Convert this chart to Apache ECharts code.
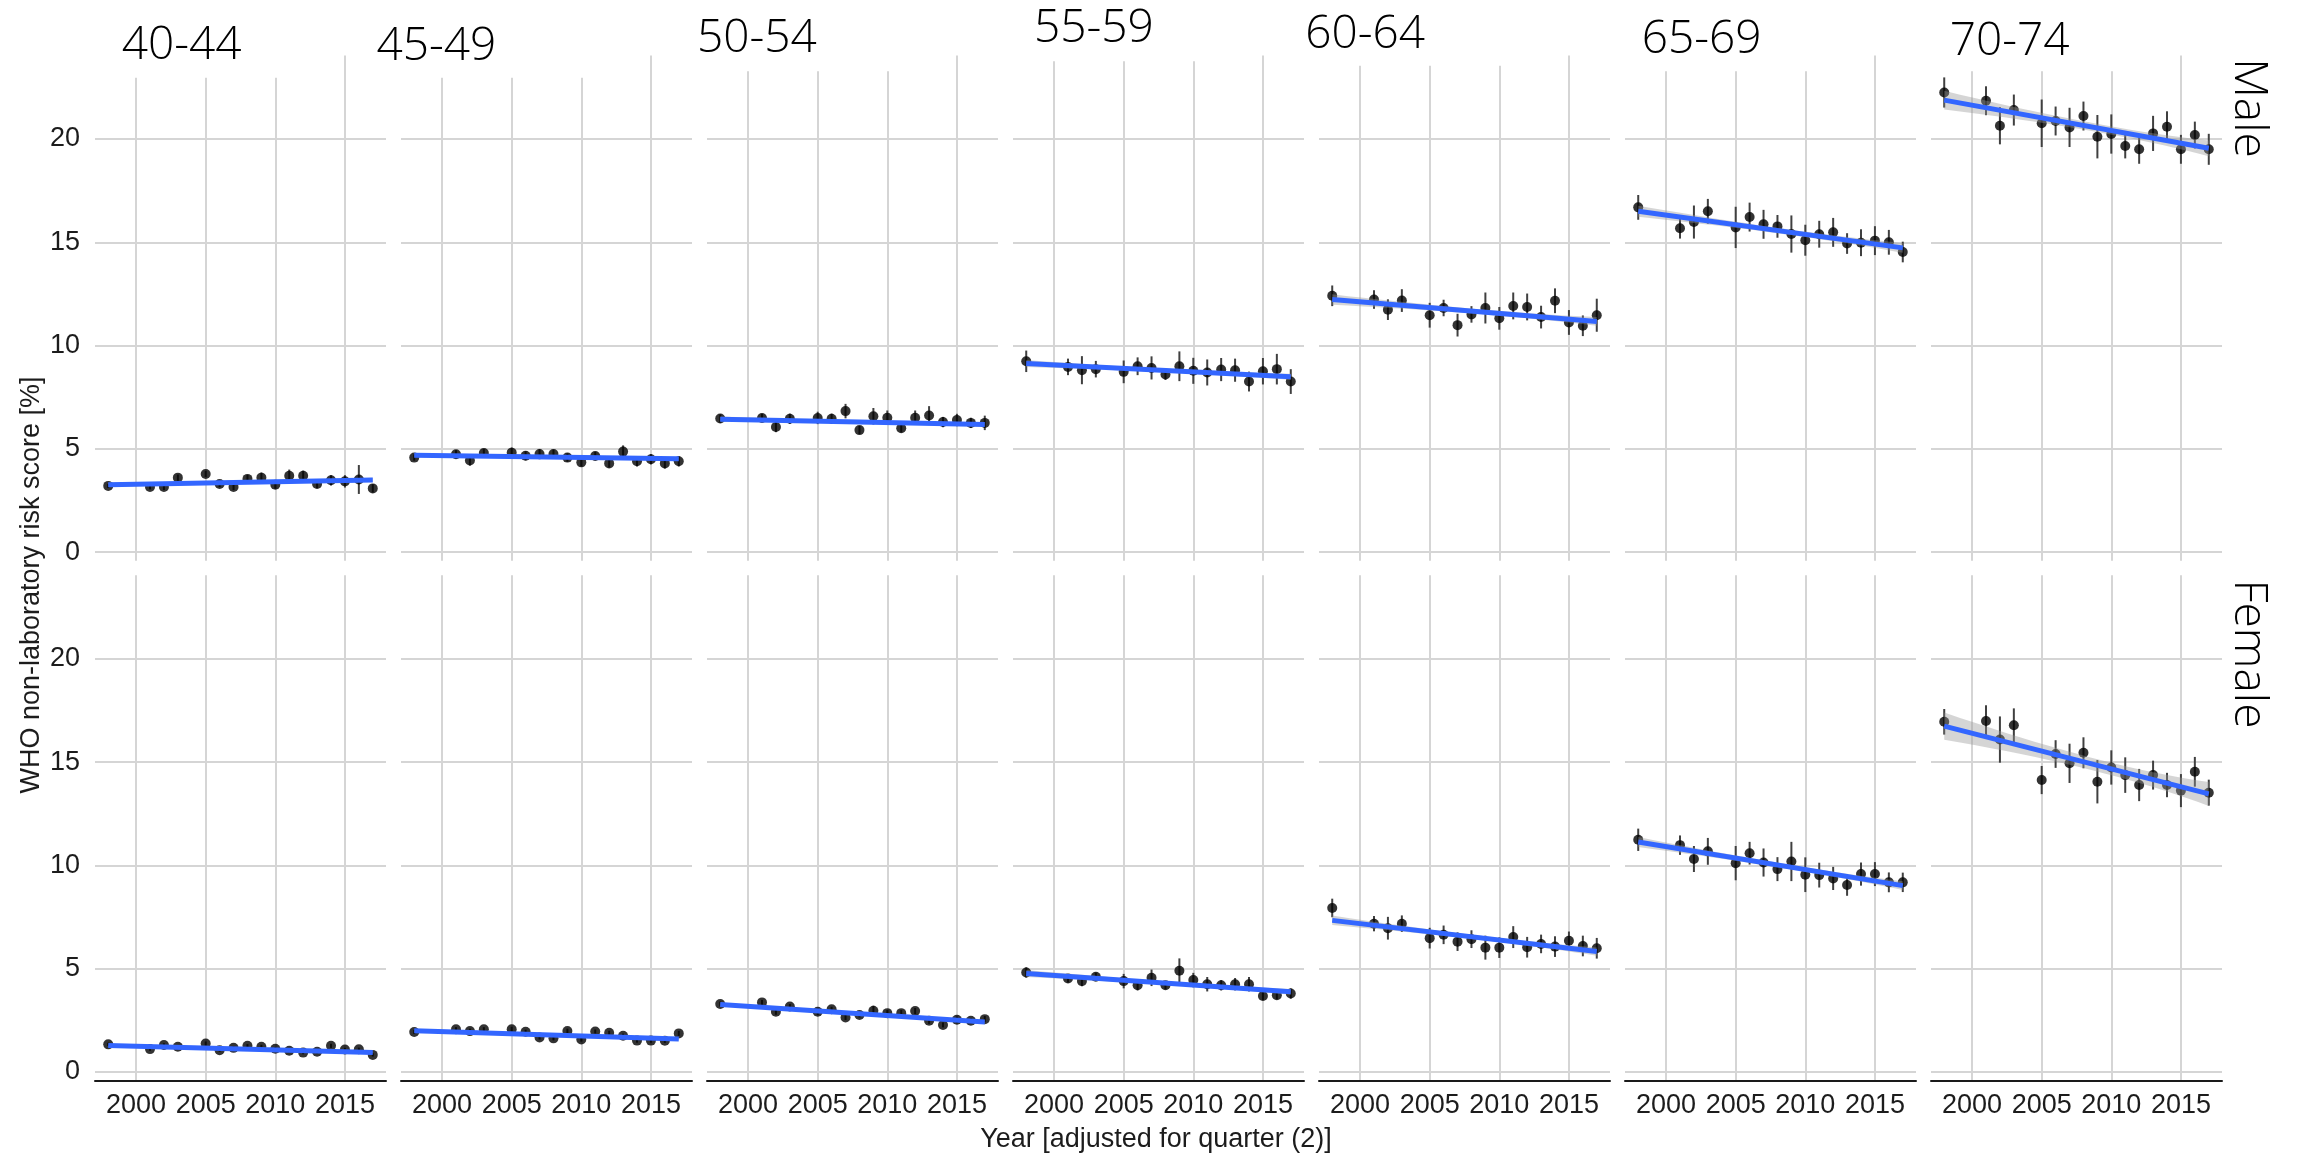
<!DOCTYPE html>
<html>
<head>
<meta charset="utf-8">
<script src="https://cdn.jsdelivr.net/npm/echarts@6/dist/echarts.min.js"></script>
<style>
  html, body { margin: 0; padding: 0; background: #ffffff; }
  #chart { width: 2298px; height: 1160px; }
</style>
</head>
<body>
<div id="chart"></div>
<script>
// ---- data -----------------------------------------------------------------
const ageGroups = ['40-44', '45-49', '50-54', '55-59', '60-64', '65-69', '70-74'];
const sexes = ['Male', 'Female'];
const years = [1998, 2001, 2002, 2003, 2005, 2006, 2007, 2008, 2009, 2010, 2011, 2012, 2013, 2014, 2015, 2016, 2017];
const yearTicks = [2000, 2005, 2010, 2015];
const scoreTicks = [0, 5, 10, 15, 20];

// mean WHO non-laboratory risk score [%] per age group (one row per age group)
const maleMean = [
  [3.21, 3.16, 3.16, 3.61, 3.79, 3.30, 3.16, 3.55, 3.61, 3.27, 3.70, 3.70, 3.30, 3.48, 3.43, 3.52, 3.09],
  [4.58, 4.74, 4.44, 4.80, 4.82, 4.67, 4.75, 4.75, 4.58, 4.35, 4.66, 4.30, 4.87, 4.40, 4.50, 4.30, 4.40],
  [6.47, 6.50, 6.06, 6.46, 6.50, 6.46, 6.83, 5.91, 6.58, 6.51, 6.00, 6.51, 6.62, 6.30, 6.40, 6.26, 6.26],
  [9.24, 8.97, 8.81, 8.86, 8.73, 9.00, 8.92, 8.60, 9.00, 8.78, 8.70, 8.84, 8.81, 8.26, 8.76, 8.86, 8.26],
  [12.41, 12.23, 11.74, 12.18, 11.47, 11.82, 10.99, 11.51, 11.82, 11.32, 11.92, 11.87, 11.38, 12.17, 11.12, 10.96, 11.47],
  [16.69, 15.68, 15.98, 16.50, 15.72, 16.22, 15.87, 15.77, 15.40, 15.10, 15.39, 15.48, 14.94, 14.98, 15.08, 15.00, 14.53],
  [22.25, 21.85, 20.64, 21.40, 20.76, 20.87, 20.56, 21.11, 20.11, 20.24, 19.66, 19.50, 20.27, 20.59, 19.50, 20.19, 19.50]
];
// half-width of the interval around each male mean
const maleErr = [
  [0.10, 0.12, 0.15, 0.15, 0.15, 0.15, 0.15, 0.20, 0.25, 0.20, 0.30, 0.25, 0.20, 0.25, 0.30, 0.70, 0.20],
  [0.15, 0.20, 0.25, 0.20, 0.25, 0.22, 0.25, 0.22, 0.20, 0.20, 0.20, 0.20, 0.30, 0.25, 0.25, 0.25, 0.25],
  [0.20, 0.20, 0.25, 0.25, 0.30, 0.25, 0.35, 0.20, 0.40, 0.35, 0.20, 0.35, 0.45, 0.25, 0.30, 0.25, 0.35],
  [0.52, 0.40, 0.68, 0.40, 0.55, 0.43, 0.56, 0.26, 0.72, 0.63, 0.63, 0.56, 0.56, 0.48, 0.64, 0.74, 0.60],
  [0.50, 0.45, 0.50, 0.55, 0.60, 0.40, 0.55, 0.40, 0.75, 0.55, 0.65, 0.65, 0.55, 0.60, 0.60, 0.50, 0.80],
  [0.60, 0.50, 0.80, 0.60, 1.00, 0.70, 0.70, 0.55, 0.90, 0.75, 0.65, 0.70, 0.50, 0.65, 0.70, 0.60, 0.50],
  [0.73, 0.70, 0.90, 0.75, 1.15, 0.70, 0.95, 0.70, 1.05, 0.95, 0.60, 0.70, 0.85, 0.75, 0.70, 0.65, 0.75]
];
const femaleMean = [
  [1.34, 1.11, 1.31, 1.22, 1.38, 1.06, 1.17, 1.27, 1.22, 1.13, 1.03, 0.94, 0.98, 1.27, 1.09, 1.10, 0.83],
  [1.94, 2.07, 1.98, 2.07, 2.07, 1.95, 1.67, 1.63, 1.98, 1.57, 1.96, 1.90, 1.76, 1.52, 1.52, 1.51, 1.87],
  [3.29, 3.37, 2.92, 3.17, 2.92, 3.04, 2.64, 2.76, 2.96, 2.85, 2.85, 2.95, 2.48, 2.28, 2.53, 2.48, 2.56],
  [4.82, 4.53, 4.40, 4.61, 4.40, 4.20, 4.56, 4.20, 4.90, 4.45, 4.25, 4.20, 4.25, 4.25, 3.68, 3.72, 3.80],
  [7.94, 7.18, 6.96, 7.18, 6.48, 6.64, 6.31, 6.43, 6.02, 6.02, 6.53, 6.04, 6.20, 6.07, 6.35, 6.10, 5.99],
  [11.24, 10.98, 10.31, 10.68, 10.11, 10.59, 10.14, 9.82, 10.19, 9.55, 9.53, 9.37, 9.05, 9.58, 9.58, 9.18, 9.18],
  [16.95, 16.99, 16.09, 16.78, 14.13, 15.39, 14.94, 15.45, 14.05, 14.74, 14.37, 13.89, 14.37, 13.89, 13.62, 14.53, 13.52]
];
const femaleErr = [
  [0.08, 0.08, 0.08, 0.08, 0.10, 0.08, 0.08, 0.08, 0.10, 0.08, 0.08, 0.08, 0.08, 0.10, 0.08, 0.08, 0.08],
  [0.10, 0.10, 0.12, 0.10, 0.12, 0.10, 0.10, 0.10, 0.12, 0.10, 0.10, 0.10, 0.10, 0.10, 0.10, 0.10, 0.12],
  [0.12, 0.12, 0.15, 0.12, 0.15, 0.12, 0.12, 0.12, 0.25, 0.15, 0.15, 0.15, 0.15, 0.12, 0.15, 0.12, 0.15],
  [0.25, 0.20, 0.25, 0.20, 0.35, 0.25, 0.40, 0.20, 0.60, 0.35, 0.35, 0.25, 0.30, 0.35, 0.20, 0.20, 0.25],
  [0.45, 0.37, 0.55, 0.40, 0.50, 0.45, 0.45, 0.43, 0.58, 0.50, 0.53, 0.50, 0.45, 0.50, 0.45, 0.50, 0.50],
  [0.54, 0.47, 0.63, 0.65, 0.83, 0.55, 0.68, 0.58, 0.95, 0.84, 0.60, 0.56, 0.52, 0.56, 0.58, 0.48, 0.47],
  [0.62, 0.76, 1.12, 0.82, 0.68, 0.67, 0.95, 0.75, 1.05, 0.83, 0.86, 0.78, 0.70, 0.59, 0.80, 0.72, 0.63]
];

// linear trend: value at the first and at the last year
const fitYears = [1998, 2017];
const maleFit = [[3.27, 3.50], [4.69, 4.52], [6.44, 6.18], [9.13, 8.49], [12.23, 11.17], [16.50, 14.73], [21.88, 19.55]];
const femaleFit = [[1.28, 0.94], [2.00, 1.60], [3.27, 2.42], [4.77, 3.88], [7.34, 5.83], [11.13, 9.02], [16.74, 13.46]];
// half-width of the trend's confidence band at first year, narrowest year, last year
const bandYears = [1998, 2008.5, 2017];
const maleBand = [[0.11, 0.05, 0.10], [0.09, 0.04, 0.08], [0.13, 0.06, 0.11], [0.17, 0.08, 0.15], [0.25, 0.12, 0.21], [0.27, 0.13, 0.24], [0.45, 0.20, 0.38]];
const femaleBand = [[0.05, 0.025, 0.045], [0.07, 0.03, 0.06], [0.09, 0.04, 0.08], [0.17, 0.08, 0.14], [0.23, 0.10, 0.20], [0.24, 0.11, 0.21], [0.66, 0.30, 0.58]];

// ---- layout ---------------------------------------------------------------
const PANEL_LEFT = 95, PANEL_STEP = 306, PANEL_W = 291;
const ROW_TOP = [55.5, 575.3], PANEL_H = 505.2;
const X_MIN = 1997.05, X_MAX = 2017.95, Y_MIN = -0.41, Y_MAX = 24.04;
const GRID_COLOR = '#d5d5d5';
const TEXT_COLOR = '#1c1c1c';
const SANS = '"Liberation Sans", Arial, sans-serif';
const LIGHT = '"Open Sans", "Noto Sans", sans-serif';

// strip titles sit at slightly different heights; the white boxes behind them
// hide the top of the vertical grid lines
const titleLeft = [121.7, 376.5, 697, 1033.9, 1305.3, 1641.7, 1949.8];
const titleMidY = [46.3, 46.6, 38.8, 28.8, 34.4, 39.8, 42.1];
const titleBoxBottom = [77.7, 77.7, 71.2, 61.2, 65.8, 71.2, 71.2];

const grids = [], xAxes = [], yAxes = [], series = [];

function bandRenderer(fit, half) {
  return function (params, api) {
    if (params.dataIndex !== 0) return null;
    const x0 = fitYears[0], x2 = fitYears[1];
    const yAt = x => fit[0] + (fit[1] - fit[0]) * (x - x0) / (x2 - x0);
    const edge = sign => bandYears.map((x, i) => api.coord([x, yAt(x) + sign * half[i]]));
    const curve = p => {
      const c = [2 * p[1][0] - (p[0][0] + p[2][0]) / 2, 2 * p[1][1] - (p[0][1] + p[2][1]) / 2];
      const out = [];
      for (let k = 0; k <= 20; k++) {
        const t = k / 20, a = (1 - t) * (1 - t), b = 2 * t * (1 - t), d = t * t;
        out.push([a * p[0][0] + b * c[0] + d * p[2][0], a * p[0][1] + b * c[1] + d * p[2][1]]);
      }
      return out;
    };
    const pts = curve(edge(-1)).concat(curve(edge(1)).reverse());
    return { type: 'polygon', shape: { points: pts }, style: { fill: 'rgba(150,150,150,0.4)' } };
  };
}

function errorBarRenderer(params, api) {
  const x = api.value(0);
  const a = api.coord([x, api.value(1)]);
  const b = api.coord([x, api.value(2)]);
  return {
    type: 'line',
    shape: { x1: a[0], y1: a[1], x2: b[0], y2: b[1] },
    style: { stroke: '#404040', lineWidth: 2 }
  };
}

for (let r = 0; r < sexes.length; r++) {
  for (let c = 0; c < ageGroups.length; c++) {
    const g = r * ageGroups.length + c;
    const mean = r === 0 ? maleMean[c] : femaleMean[c];
    const err = r === 0 ? maleErr[c] : femaleErr[c];
    const fit = r === 0 ? maleFit[c] : femaleFit[c];
    const band = r === 0 ? maleBand[c] : femaleBand[c];
    const bottomRow = r === sexes.length - 1;

    grids.push({
      left: PANEL_LEFT + c * PANEL_STEP, top: ROW_TOP[r],
      width: PANEL_W, height: PANEL_H,
      containLabel: false, outerBoundsMode: 'none'
    });
    xAxes.push({
      type: 'value', gridIndex: g, min: X_MIN, max: X_MAX, splitNumber: 4,
      axisLine: { show: bottomRow, onZero: false, lineStyle: { color: '#1a1a1a', width: 2 } },
      axisTick: { show: false },
      axisLabel: {
        show: bottomRow, showMinLabel: false, showMaxLabel: false, margin: 12,
        fontSize: 27, fontFamily: SANS, color: TEXT_COLOR,
        formatter: v => (yearTicks.indexOf(v) >= 0 ? String(v) : '')
      },
      splitLine: { show: true, showMinLine: false, showMaxLine: false, lineStyle: { color: GRID_COLOR, width: 2 } }
    });
    yAxes.push({
      type: 'value', gridIndex: g, min: Y_MIN, max: Y_MAX, splitNumber: 5,
      axisLine: { show: false }, axisTick: { show: false },
      axisLabel: {
        show: c === 0, showMinLabel: false, showMaxLabel: false, margin: 15,
        fontSize: 27, fontFamily: SANS, color: TEXT_COLOR,
        formatter: v => (scoreTicks.indexOf(v) >= 0 ? String(v) : '')
      },
      splitLine: { show: true, showMinLine: false, showMaxLine: false, lineStyle: { color: GRID_COLOR, width: 2 } }
    });

    series.push({
      type: 'custom', xAxisIndex: g, yAxisIndex: g, silent: true, z: 3,
      renderItem: errorBarRenderer,
      encode: { x: 0, y: [1, 2] },
      data: years.map((yr, i) => [yr, mean[i] - err[i], mean[i] + err[i]])
    });
    series.push({
      type: 'scatter', xAxisIndex: g, yAxisIndex: g, silent: true, z: 4,
      symbol: 'circle', symbolSize: 10,
      itemStyle: { color: '#000000' },
      data: years.map((yr, i) => [yr, mean[i]])
    });
    series.push({
      type: 'custom', xAxisIndex: g, yAxisIndex: g, silent: true, z: 5,
      renderItem: bandRenderer(fit, band),
      encode: { x: 0, y: 1 },
      data: [[fitYears[0], fit[0]]]
    });
    series.push({
      type: 'line', xAxisIndex: g, yAxisIndex: g, silent: true, z: 6,
      symbol: 'none',
      lineStyle: { color: '#3366FF', width: 5 },
      data: fitYears.map((yr, i) => [yr, fit[i]])
    });
  }
}

const graphics = [];
ageGroups.forEach((label, c) => {
  const left = PANEL_LEFT + c * PANEL_STEP;
  const x2015 = left + (2015 - X_MIN) / (X_MAX - X_MIN) * PANEL_W;
  graphics.push({
    type: 'rect', z: 100, silent: true,
    shape: { x: left - 4, y: 0, width: x2015 - left - 4, height: titleBoxBottom[c] },
    style: { fill: '#ffffff' }
  });
  graphics.push({
    type: 'text', z: 101, silent: true,
    style: {
      x: titleLeft[c], y: titleMidY[c], text: label,
      fontSize: 46, fontWeight: 300, fontFamily: LIGHT, fill: '#000000',
      align: 'left', verticalAlign: 'middle'
    }
  });
});
const stripCenterY = [108, 654];
sexes.forEach((s, r) => {
  graphics.push({
    type: 'text', z: 101, silent: true,
    x: 2248, y: stripCenterY[r], rotation: -Math.PI / 2,
    style: {
      x: 0, y: 0, text: s,
      fontSize: 46, fontWeight: 300, fontFamily: LIGHT, fill: '#000000',
      align: 'center', verticalAlign: 'middle'
    }
  });
});
graphics.push({
  type: 'text', z: 101, silent: true,
  x: 32, y: 585, rotation: Math.PI / 2,
  style: {
    x: 0, y: 0, text: 'WHO non-laboratory risk score [%]',
    fontSize: 27, fontFamily: SANS, fill: TEXT_COLOR,
    align: 'center', verticalAlign: 'middle'
  }
});
graphics.push({
  type: 'text', z: 101, silent: true,
  style: {
    x: 1156, y: 1140, text: 'Year [adjusted for quarter (2)]',
    fontSize: 27, fontFamily: SANS, fill: TEXT_COLOR,
    align: 'center', verticalAlign: 'middle'
  }
});

const chart = echarts.init(document.getElementById('chart'), null, { renderer: 'canvas' });
chart.setOption({
  backgroundColor: '#ffffff',
  animation: false,
  grid: grids,
  xAxis: xAxes,
  yAxis: yAxes,
  series: series,
  graphic: { elements: graphics }
});
</script>
</body>
</html>
